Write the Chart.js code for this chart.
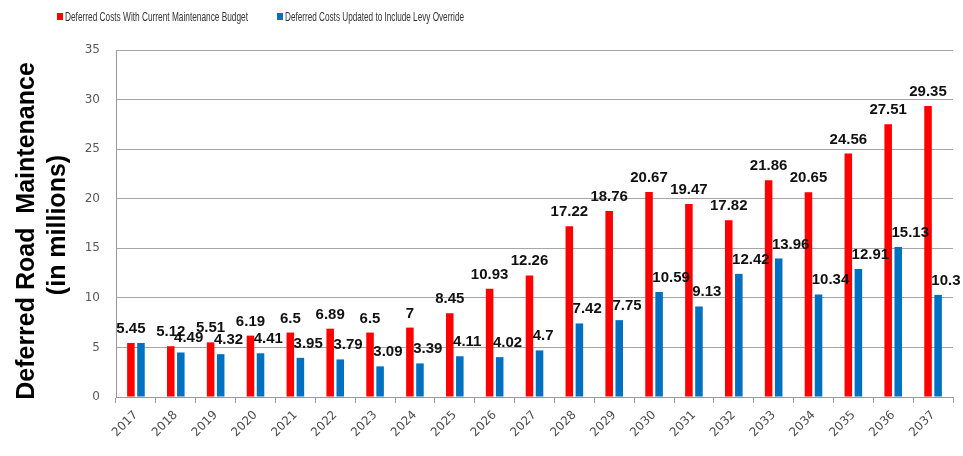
<!DOCTYPE html>
<html>
<head>
<meta charset="utf-8">
<script src="https://cdn.jsdelivr.net/npm/chart.js@4"></script>
<style>
  html, body { margin: 0; padding: 0; background: #fff; }
  #graphique { display: block; }
</style>
</head>
<body>
<canvas id="graphique" width="963" height="456"></canvas>
<script>
// Les annees (axe x)
const annees = ["2017", "2018", "2019", "2020", "2021", "2022", "2023", "2024", "2025", "2026", "2027",
                "2028", "2029", "2030", "2031", "2032", "2033", "2034", "2035", "2036", "2037"];

// Couts differes avec le budget actuel
const coutsBudgetActuel = [5.45, 5.12, 5.51, 6.19, 6.5, 6.89, 6.5, 7, 8.45, 10.93, 12.26,
                           17.22, 18.76, 20.67, 19.47, 17.82, 21.86, 20.65, 24.56, 27.51, 29.35];

// Couts differes avec la levy override
const coutsLevyOverride = [5.45, 4.49, 4.32, 4.41, 3.95, 3.79, 3.09, 3.39, 4.11, 4.02, 4.7,
                           7.42, 7.75, 10.59, 9.13, 12.42, 13.96, 10.34, 12.91, 15.13, 10.3];

// Graduations de l'axe y
const graduationsY = [0, 5, 10, 15, 20, 25, 30, 35];

const nomsSeries = ["Deferred Costs With Current Maintenance Budget", "Deferred Costs Updated to Include Levy Override"];
const titreAxeY = ["Deferred Road  Maintenance", "(in millions)"];

const ROUGE = "#ff0000";
const BLEU = "#0070c0";

// Plugin : legende, titre de l'axe y et etiquettes des valeurs
const pluginDessins = {
  id: "dessins",
  afterDraw(chart) {
    const ctx = chart.ctx;
    ctx.save();

    // Legende en haut (texte resserre avec maxWidth, pas de police etroite dispo)
    const legendes = [
      { x: 57, couleur: ROUGE, texte: nomsSeries[0], largeur: 183 },
      { x: 277, couleur: BLEU, texte: nomsSeries[1], largeur: 179 }
    ];
    ctx.font = "13px 'Liberation Sans', Arial, sans-serif";
    ctx.textBaseline = "middle";
    ctx.textAlign = "left";
    for (let leg of legendes) {
      ctx.fillStyle = leg.couleur;
      ctx.fillRect(leg.x, 13, 6, 7);
      ctx.fillStyle = "#333";
      ctx.fillText(leg.texte, leg.x + 8, 17, leg.largeur);
    }

    // Titre vertical de l'axe y (deux lignes)
    ctx.fillStyle = "#000";
    ctx.font = "bold 25px 'Liberation Sans', Arial, sans-serif";
    ctx.textAlign = "center";
    ctx.textBaseline = "middle";
    ctx.save();
    ctx.translate(27, 231);
    ctx.rotate(-Math.PI / 2);
    ctx.fillText(titreAxeY[0], 0, 0);
    ctx.restore();
    ctx.save();
    ctx.translate(58, 225);
    ctx.rotate(-Math.PI / 2);
    ctx.fillText(titreAxeY[1], 0, 0);
    ctx.restore();
    ctx.restore();
  },
  afterDatasetsDraw(chart) {
    const ctx = chart.ctx;
    ctx.save();
    ctx.font = "bold 15px 'Liberation Sans', Arial, sans-serif";
    ctx.fillStyle = "#111";
    ctx.textBaseline = "alphabetic";
    chart.data.datasets.forEach((ds, d) => {
      const meta = chart.getDatasetMeta(d);
      meta.data.forEach((barre, i) => {
        const valeur = ds.data[i];
        if (d === 1 && valeur === chart.data.datasets[0].data[i]) return; // meme etiquette deja affichee
        if (d === 0) {
          ctx.textAlign = "center";
          ctx.fillText(String(valeur), barre.x, barre.y - 10);
        } else {
          ctx.textAlign = "left";
          ctx.fillText(String(valeur), barre.x - barre.width / 2 - 3, barre.y - 10);
        }
      });
    });
    ctx.restore();
  }
};

const data = {
  labels: annees,
  datasets: [
    { label: nomsSeries[0], data: coutsBudgetActuel, backgroundColor: ROUGE },
    { label: nomsSeries[1], data: coutsLevyOverride, backgroundColor: BLEU }
  ]
};

const config = {
  type: "bar",
  data: data,
  options: {
    responsive: false,
    animation: false,
    datasets: { bar: { categoryPercentage: 0.505, barPercentage: 0.75 } },
    layout: { padding: { top: 50, right: 10, left: 0, bottom: 0 } },
    plugins: { legend: { display: false }, tooltip: { enabled: false } },
    scales: {
      x: {
        offset: true,
        grid: { offset: true, drawOnChartArea: false, drawTicks: true, tickLength: 6, color: "#999" },
        border: { color: "#999" },
        ticks: { minRotation: 45, maxRotation: 45, padding: 5, color: "#4d4d4d", font: { family: "'DejaVu Sans'", size: 12 } },
        afterFit: (echelle) => { echelle.height = 59; }
      },
      y: {
        min: graduationsY[0],
        max: graduationsY[graduationsY.length - 1],
        afterBuildTicks: (echelle) => { echelle.ticks = graduationsY.map(v => ({ value: v })); },
        grid: { color: "#a6a6a6", drawTicks: false },
        border: { color: "#999" },
        ticks: { padding: 16, color: "#595959", font: { family: "'DejaVu Sans'", size: 12 } },
        afterFit: (echelle) => { echelle.width = 116; }
      }
    }
  },
  plugins: [pluginDessins]
};

new Chart(document.querySelector("#graphique"), config);
</script>
</body>
</html>
